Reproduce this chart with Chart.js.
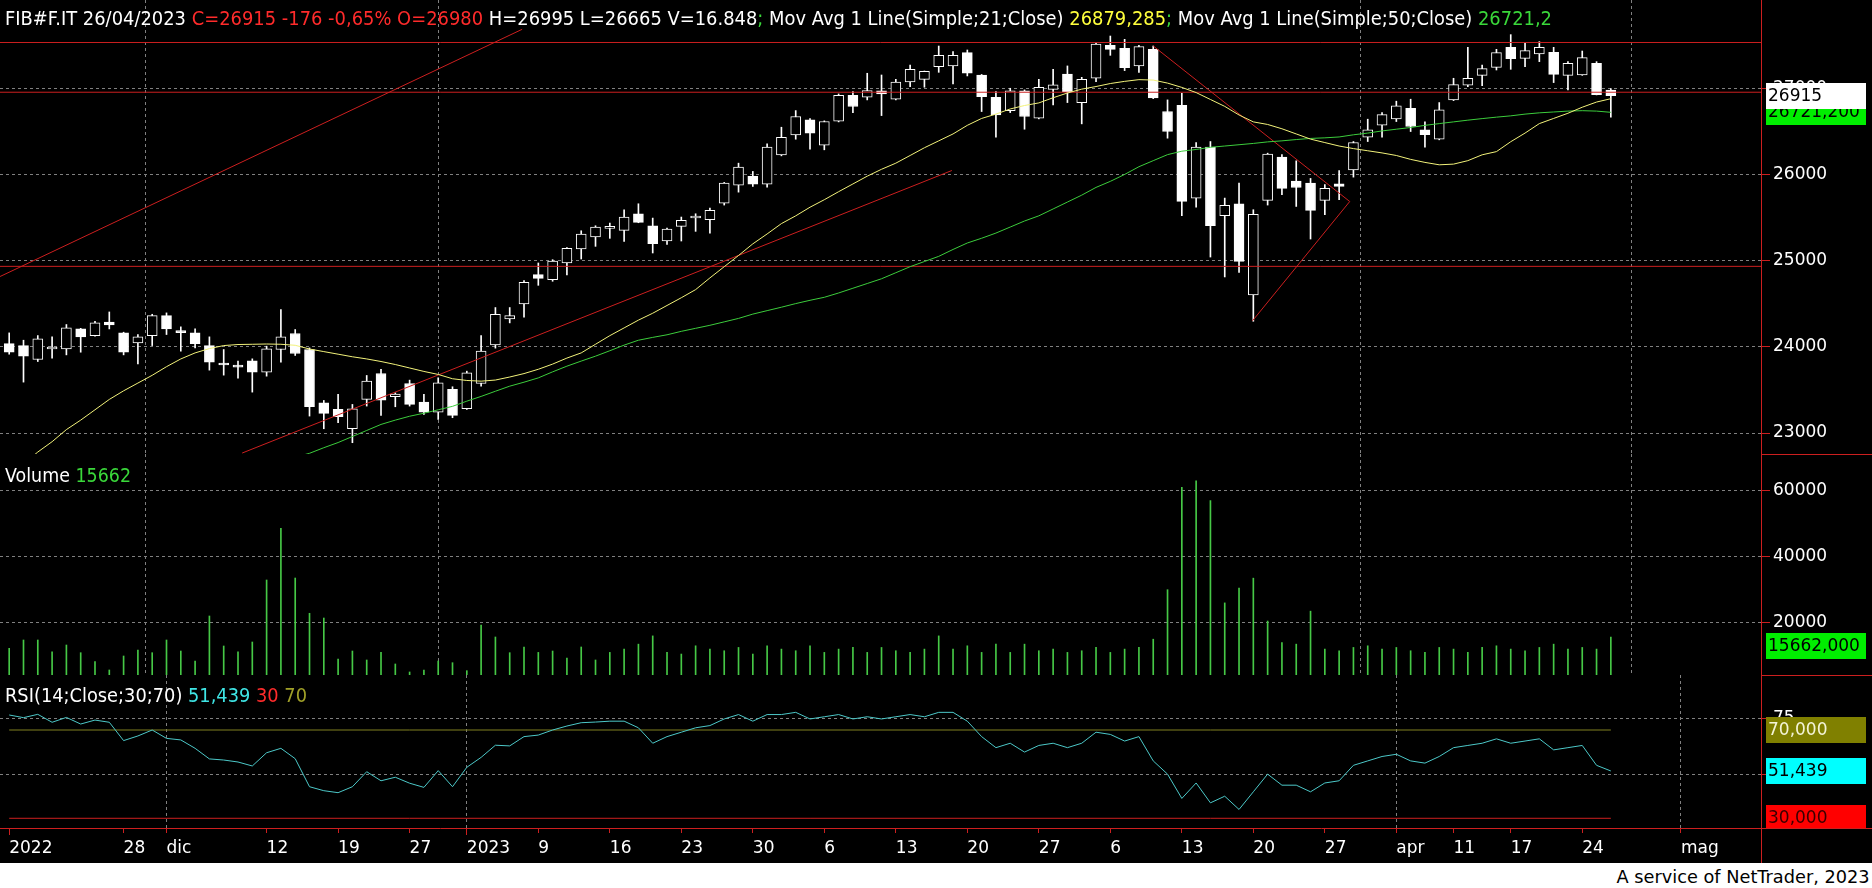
<!DOCTYPE html>
<html>
<head>
  <meta charset="UTF-8">
  <title>FIB#F.IT</title>
  <style>
    body { margin: 0; background: #fff; font-family: "DejaVu Sans", sans-serif; }
    #screen { position: relative; width: 1872px; height: 863px; background: #000; overflow: hidden; }
    #screen canvas { position: absolute; left: 0; }
    .caption { position: absolute; left: 5px; white-space: nowrap; font-size: 19px; line-height: 22px; color: #fff; transform-origin: 0 0; }
    #footer { position: absolute; top: 867px; right: 2px; font-size: 17px; line-height: 20px; color: #000; white-space: nowrap; transform-origin: 100% 0; }
    .r { color: #ff2b2b; }
    .y { color: #ffff3c; }
    .g { color: #3ad83a; }
    .c { color: #3fe6e6; }
    .o { color: #a0a028; }
  </style>
</head>
<body>
  <div id="screen">
    <canvas id="priceChart" width="1872" height="454" style="top:0"></canvas>
    <canvas id="volumeChart" width="1872" height="221" style="top:454px"></canvas>
    <canvas id="rsiChart" width="1872" height="188" style="top:675px"></canvas>
    <div class="caption" id="head" style="top:7px">FIB#F.IT 26/04/2023 <span class="r">C=26915 -176 -0,65% O=26980</span> H=26995 L=26665 V=16.848<span class="g">;</span> Mov Avg 1 Line(Simple;21;Close) <span class="y">26879,285</span><span class="g">;</span> Mov Avg 1 Line(Simple;50;Close) <span class="g">26721,2</span></div>
    <div class="caption" id="volCap" style="top:464px">Volume <span class="g">15662</span></div>
    <div class="caption" id="rsiCap" style="top:684px">RSI(14;Close;30;70) <span class="c">51,439</span> <span class="r">30</span> <span class="o">70</span></div>
  </div>
  <div id="footer">A service of NetTrader, 2023</div>

  <script src="https://cdn.jsdelivr.net/npm/chart.js"></script>
  <script>
    // daily candles, 16/11/2022 .. 26/04/2023 (index 0..112)
    const opens = [
      24038, 24015, 23853, 23975, 23977, 24208, 24131, 24286, 24162, 24046,
      24131, 24363, 24175, 24162, 24015, 23795, 23770, 23838, 23707, 23969,
      24155, 23969, 23351, 23274, 23050, 23390, 23691, 23421, 23575, 23359,
      23243, 23506, 23282, 23575, 24023, 24324, 24498, 24838, 24780, 24973,
      25135, 25274, 25375, 25351, 25544, 25405, 25228, 25398, 25495, 25475,
      25668, 25877, 25977, 25888, 26228, 26459, 26633, 26340, 26618, 26919,
      26896, 26969, 26873, 27073, 27104, 27251, 27259, 27413, 27154, 26896,
      26741, 26969, 26652, 26988, 27166, 26834, 27116, 27498, 27463, 27259,
      27452, 26730, 26803, 25726, 26317, 25521, 25660, 24602, 25699, 26201,
      25923, 25900, 25699, 25892, 26054, 26432, 26571, 26645, 26768, 26517,
      26409, 26865, 27035, 27150, 27243, 27475, 27347, 27398, 27417, 27150,
      27154, 27289, 26980
    ];
    const closes = [
      23938, 23892, 24093, 23985, 24220, 24116, 24278, 24255, 23938, 24116,
      24363, 24208, 24165, 24038, 23822, 23790, 23765, 23707, 23977, 24116,
      23923, 23305, 23228, 23189, 23282, 23602, 23382, 23452, 23332, 23243,
      23583, 23205, 23699, 23950, 24378, 24363, 24749, 24795, 24996, 25143,
      25309, 25390, 25385, 25506, 25444, 25197, 25367, 25467, 25500, 25583,
      25900, 26085, 25888, 26317, 26432, 26672, 26479, 26614, 26919, 26788,
      26973, 26934, 27073, 27220, 27197, 27382, 27382, 27174, 26903, 26691,
      26969, 26672, 27012, 27039, 26961, 27104, 27513, 27452, 27239, 27483,
      26888, 26498, 25687, 26317, 25405, 25641, 24992, 25537, 26236, 25838,
      25849, 25583, 25838, 25861, 26371, 26517, 26695, 26795, 26556, 26463,
      26749, 27042, 27116, 27228, 27413, 27344, 27436, 27475, 27162, 27289,
      27355, 26927, 26915
    ];
    const highs = [
      24162, 24077, 24131, 24116, 24259, 24215, 24297, 24405, 24170, 24143,
      24378, 24394, 24232, 24208, 24116, 23969, 23834, 23861, 24008, 24432,
      24201, 23988, 23378, 23448, 23332, 23668, 23738, 23467, 23614, 23448,
      23641, 23537, 23718, 24131, 24456, 24456, 24768, 24973, 25011, 25151,
      25347, 25405, 25436, 25591, 25660, 25494, 25378, 25506, 25544, 25610,
      25908, 26131, 26035, 26355, 26548, 26741, 26648, 26622, 26934, 26961,
      27174, 27154, 27104, 27270, 27200, 27490, 27425, 27444, 27160, 26961,
      27000, 26981, 27104, 27220, 27259, 27127, 27529, 27606, 27568, 27498,
      27490, 26865, 26942, 26371, 26382, 25726, 25900, 25591, 26247, 26232,
      26158, 25954, 25884, 26046, 26382, 26641, 26718, 26850, 26873, 26610,
      26834, 27116, 27475, 27270, 27452, 27622, 27521, 27541, 27475, 27309,
      27432, 27309, 26995
    ];
    const lows = [
      23915, 23591, 23830, 23869, 23907, 23938, 24125, 24208, 23907, 23803,
      24015, 24143, 23950, 23988, 23730, 23672, 23637, 23475, 23660, 23822,
      23900, 23197, 23050, 23120, 22888, 23313, 23205, 23305, 23313, 23216,
      23158, 23178, 23274, 23544, 23985, 24278, 24344, 24714, 24761, 24834,
      25019, 25166, 25259, 25224, 25440, 25089, 25189, 25228, 25340, 25320,
      25645, 25795, 25861, 25853, 26216, 26409, 26293, 26286, 26610, 26718,
      26865, 26683, 26865, 27019, 27012, 27185, 27050, 27143, 26730, 26432,
      26718, 26525, 26645, 26807, 26834, 26587, 27077, 27382, 27205, 27185,
      26880, 26421, 25521, 25622, 25042, 24811, 24865, 24297, 25645, 25765,
      25629, 25251, 25533, 25707, 25969, 26382, 26432, 26614, 26498, 26317,
      26402, 26857, 27019, 27031, 27212, 27220, 27251, 27309, 27066, 26981,
      27150, 26923, 26665
    ];
    const ma21 = [
      22500, 22640, 22780, 22900, 23040, 23150, 23270, 23390, 23490, 23580,
      23670, 23770, 23860, 23930, 23980, 24015, 24027, 24030, 24033, 24030,
      24018, 23975, 23945, 23915, 23885, 23860, 23830, 23795, 23755, 23715,
      23680, 23630, 23610, 23602, 23615, 23650, 23690, 23740, 23800, 23870,
      23930, 24030, 24130, 24220, 24310, 24390, 24480, 24570, 24664, 24800,
      24930, 25060, 25195, 25310, 25430, 25520, 25620, 25707, 25800, 25890,
      25980, 26060, 26131, 26220, 26310, 26390, 26470, 26570, 26650, 26700,
      26760, 26800, 26830, 26890, 26945, 26990, 27020, 27055, 27080, 27100,
      27095, 27060, 27010, 26950, 26870, 26790, 26690, 26610, 26580, 26530,
      26470, 26410, 26370, 26330, 26300, 26275, 26250, 26220, 26175, 26140,
      26112, 26120, 26160, 26228, 26265, 26380, 26480, 26590, 26650, 26710,
      26780, 26840, 26879
    ];
    const ma50 = [
      null, null, null, null, null, null, null, null, null, null,
      null, null, null, null, null, null, null, null, null, null,
      22720, 22765, 22830, 22890, 22960, 23030, 23100, 23150, 23195, 23230,
      23270, 23310, 23370, 23425, 23485, 23544, 23590, 23640, 23710, 23776,
      23835, 23892, 23955, 24020, 24077, 24110, 24140, 24180, 24215, 24250,
      24290, 24330, 24380, 24420, 24460, 24502, 24540, 24575, 24625, 24680,
      24735, 24790, 24860, 24930, 24990, 25050, 25130, 25205, 25260, 25320,
      25390, 25460, 25520, 25600, 25680, 25760, 25850, 25920, 26000, 26090,
      26160, 26230, 26270, 26290, 26315, 26330, 26345, 26360, 26378, 26390,
      26405, 26418, 26425, 26435, 26460, 26480, 26505, 26525, 26545, 26570,
      26590, 26610, 26630, 26648, 26665, 26680, 26700, 26715, 26725, 26735,
      26740, 26735, 26721
    ];
    const volumes = [
      12240, 14760, 14760, 11210, 13240, 10910, 8180, 5670, 9910, 11730,
      10910, 14760, 11420, 8390, 22030, 12940, 11210, 14150, 32940, 48600,
      33540, 22850, 21420, 9000, 11420, 8700, 11000, 7490, 5070, 5670,
      8390, 7880, 5460, 19300, 15670, 10910, 12640, 11000, 11420, 9300,
      12640, 8700, 11000, 12000, 13500, 16000, 11000, 10500, 13000, 12000,
      11500, 12500, 10500, 13000, 12000, 11500, 13000, 11000, 12000, 12500,
      11000, 12500, 11500, 11000, 12000, 16000, 12000, 13000, 11000, 13500,
      11000, 13500, 11500, 12000, 11000, 11500, 12500, 11000, 12000, 12500,
      15000, 30000, 61000, 63000, 57000, 26000, 30500, 33500, 20500, 14000,
      13500, 23500, 12000, 11500, 12500, 13000, 12000, 12500, 11500, 11000,
      12500, 12000, 11000, 12500, 13000, 12000, 11500, 12500, 13500, 12000,
      12500, 12000, 15662
    ];
    const rsi = [
      76.8, 75.6, 77.1, 73.5, 75.7, 72.7, 74.5, 73.5, 65.2, 67.3,
      70.0, 66.2, 65.5, 61.7, 56.9, 56.4, 55.5, 53.7, 59.7, 61.7,
      57.0, 44.3, 42.5, 41.6, 44.3, 51.1, 47.0, 48.6, 45.9, 44.0,
      51.6, 44.3, 53.1, 57.6, 63.1, 62.8, 67.0, 67.7, 70.0, 71.8,
      73.3, 73.6, 74, 74, 71, 64, 67, 69, 71, 72,
      75, 77, 74, 77, 77, 78, 75, 76, 77, 75,
      76, 75, 76, 77, 76, 78, 78, 74, 67, 62,
      64, 60, 63, 64, 62, 64, 69, 68, 65, 67,
      56, 50, 39, 46, 37, 40, 34, 42, 50, 45,
      45, 42, 46, 47, 54, 56, 58, 59, 56, 55,
      58, 62, 63, 64, 66, 64, 65, 66, 61, 62,
      63, 54, 51.439
    ];
    // user drawn lines: [index, price] points and horizontal levels
    const trendA = [[-0.64, 24816], [35.87, 27684]];
    const trendB = [[16.29, 22768], [65.92, 26046]];
    const trendC = [[80.0, 27491], [93.74, 25686], [86.94, 24302]];
    const levels = [27531, 26954, 24934];

    const xTickPos = [0, 8, 11, 18, 23, 28, 32, 37, 42, 47, 52, 57, 62, 67, 72, 77, 82, 87, 92, 97, 101, 105, 110, 116.9];
    const xTickLabels = ['2022', '28', 'dic', '12', '19', '27', '2023', '9', '16', '23', '30', '6', '13', '20', '27', '6', '13', '20', '27', 'apr', '11', '17', '24', 'mag'];
    const monthGrid = [11, 32, 97, 116.9];
    const yearTicks = [0, 32];

    const GRID = '#808080';
    const RED = '#cc1f1f';
    const FONT = { family: 'DejaVu Sans', size: 17 };
    const X_MIN = -0.643, X_MAX = 122.5;

    Chart.defaults.font.family = 'DejaVu Sans';

    function xScale(show) {
      return {
        type: 'linear', min: X_MIN, max: X_MAX, offset: false,
        afterBuildTicks: s => { s.ticks = xTickPos.map(v => ({ value: v })); },
        afterFit: s => { s.height = show ? 35 : 0; s.paddingLeft = 0; s.paddingRight = 0; },
        grid: {
          color: c => (c.tick && monthGrid.includes(c.tick.value)) ? GRID : 'rgba(0,0,0,0)',
          drawTicks: show, tickLength: 7, tickColor: RED,
          tickBorderDash: c => (c.tick && yearTicks.includes(c.tick.value)) ? [] : [4, 20]
        },
        border: { display: show, color: RED, dash: [3, 3] },
        ticks: {
          display: show, autoSkip: false, maxRotation: 0, align: 'start',
          color: '#fff', font: FONT, padding: 3,
          callback: (v, i) => xTickLabels[i]
        }
      };
    }

    function yScale(min, max, step, labelled) {
      return {
        position: 'right', min: min, max: max,
        afterBuildTicks: s => {
          const t = [];
          for (let v = Math.ceil(min / step) * step; v <= max; v += step) t.push({ value: v });
          s.ticks = t;
        },
        afterFit: s => { s.width = 111; s.paddingTop = 0; s.paddingBottom = 0; },
        grid: {
          color: c => (c.tick && labelled(c.tick.value)) ? GRID : 'rgba(0,0,0,0)',
          tickLength: 9, tickColor: RED,
          tickBorderDash: c => (c.tick && labelled(c.tick.value)) ? [] : [5, 20]
        },
        border: { color: RED, dash: [3, 3] },
        ticks: { autoSkip: false, color: '#fff', font: FONT, padding: 3, callback: v => labelled(v) ? String(v) : null }
      };
    }

    function valueBox(chart, value, text, bg, fg, minTop) {
      const { ctx, chartArea } = chart;
      const y = chart.scales.y.getPixelForValue(value);
      let top = Math.round(y - 13);
      if (minTop !== undefined) top = Math.max(top, minTop);
      ctx.save();
      ctx.beginPath();
      ctx.rect(0, 0, chart.width, chartArea.bottom);
      ctx.clip();
      ctx.fillStyle = bg;
      ctx.fillRect(chartArea.right + 5, top, 100, 26);
      ctx.fillStyle = fg;
      ctx.font = '17px "DejaVu Sans"';
      ctx.textBaseline = 'middle';
      ctx.fillText(text, chartArea.right + 7, top + 14);
      ctx.restore();
    }

    function redLine(ctx, x1, y1, x2, y2) {
      ctx.save();
      ctx.strokeStyle = RED;
      ctx.lineWidth = 1;
      ctx.beginPath();
      ctx.moveTo(x1, y1);
      ctx.lineTo(x2, y2);
      ctx.stroke();
      ctx.restore();
    }

    function line(data, color, order) {
      return { type: 'line', data: data, borderColor: color, borderWidth: 1, pointRadius: 0, tension: 0, order: order };
    }

    const baseOptions = {
      responsive: false, animation: false, events: [],
      layout: { padding: 0, autoPadding: false },
      plugins: { legend: { display: false }, tooltip: { enabled: false } }
    };

    // price panel
    const down = closes.map((c, i) => c < opens[i]);
    new Chart(document.getElementById('priceChart'), {
      type: 'bar',
      data: {
        datasets: [
          line(ma21.map((v, i) => ({ x: i, y: v })), '#f2f27a', 0),
          line(ma50.map((v, i) => ({ x: i, y: v })).filter(p => p.y !== null), '#3ccc3c', 0),
          line(trendA.map(p => ({ x: p[0], y: p[1] })), RED, 0),
          line(trendB.map(p => ({ x: p[0], y: p[1] })), RED, 0),
          line(trendC.map(p => ({ x: p[0], y: p[1] })), RED, 0),
          ...levels.map(lv => line([{ x: X_MIN, y: lv }, { x: X_MAX, y: lv }], RED, 0)),
          {
            type: 'bar', order: 5, grouped: false, barThickness: 10, minBarLength: 2,
            data: opens.map((o, i) => ({ x: i, y: [o, closes[i]] })),
            backgroundColor: opens.map((o, i) => down[i] ? '#fff' : '#000'),
            borderColor: '#fff', borderWidth: 1, borderSkipped: false
          },
          {
            type: 'bar', order: 6, grouped: false, barThickness: 1,
            data: lows.map((l, i) => ({ x: i, y: [l, highs[i]] })),
            backgroundColor: '#fff', borderWidth: 0
          }
        ]
      },
      options: Object.assign({}, baseOptions, {
        scales: {
          x: xScale(false),
          y: yScale(22757, 28024, 500, v => v % 1000 === 0 && v < 28000)
        }
      }),
      plugins: [{
        id: 'priceBoxes',
        afterDraw: chart => {
          valueBox(chart, ma50[ma50.length - 1], '26721,200', '#00ee00', '#000');
          valueBox(chart, closes[closes.length - 1], '26915', '#fff', '#000');
        }
      }]
    });

    // volume panel
    new Chart(document.getElementById('volumeChart'), {
      type: 'bar',
      data: {
        datasets: [{
          data: volumes.map((v, i) => ({ x: i, y: v })),
          barThickness: 1, backgroundColor: '#46c846', borderWidth: 0
        }]
      },
      options: Object.assign({}, baseOptions, {
        scales: {
          x: xScale(false),
          y: yScale(4151, 71121, 10000, v => v % 20000 === 0 && v < 70000)
        }
      }),
      plugins: [{
        id: 'volumeBoxes',
        afterDraw: chart => {
          const a = chart.chartArea;
          redLine(chart.ctx, a.right, 0.5, chart.width, 0.5);
          valueBox(chart, volumes[volumes.length - 1], '15662,000', '#00ee00', '#000',
            Math.round(chart.scales.y.getPixelForValue(20000) + 10));
        }
      }]
    });

    // RSI panel
    new Chart(document.getElementById('rsiChart'), {
      type: 'line',
      data: {
        datasets: [
          line(rsi.map((v, i) => ({ x: i, y: v })), '#4cc8c8', 0),
          line([{ x: 0, y: 70 }, { x: rsi.length - 1, y: 70 }], '#808020', 1),
          line([{ x: 0, y: 30 }, { x: rsi.length - 1, y: 30 }], RED, 1)
        ]
      },
      options: Object.assign({}, baseOptions, {
        scales: {
          x: xScale(true),
          y: yScale(25.6, 94.92, 12.5, v => v === 50 || v === 75)
        }
      }),
      plugins: [{
        id: 'rsiBoxes',
        afterDraw: chart => {
          const a = chart.chartArea;
          redLine(chart.ctx, a.right, 0.5, chart.width, 0.5);
          redLine(chart.ctx, a.right, a.bottom + 0.5, chart.width, a.bottom + 0.5);
          redLine(chart.ctx, a.right + 0.5, a.bottom, a.right + 0.5, chart.height);
          valueBox(chart, 70, '70,000', '#808000', '#f4f4d8');
          valueBox(chart, rsi[rsi.length - 1], '51,439', '#00ffff', '#000');
          valueBox(chart, 30, '30,000', '#ff0000', '#3a0000');
        }
      }]
    });

    // squeeze captions to the widths they have in the picture
    function fitWidth(id, target) {
      const el = document.getElementById(id);
      const w = el.getBoundingClientRect().width;
      if (w > 0) el.style.transform = 'scaleX(' + (target / w) + ')';
    }
    fitWidth('head', 1547);
    fitWidth('volCap', 126);
    fitWidth('rsiCap', 302);
    fitWidth('footer', 253);
  </script>
</body>
</html>
